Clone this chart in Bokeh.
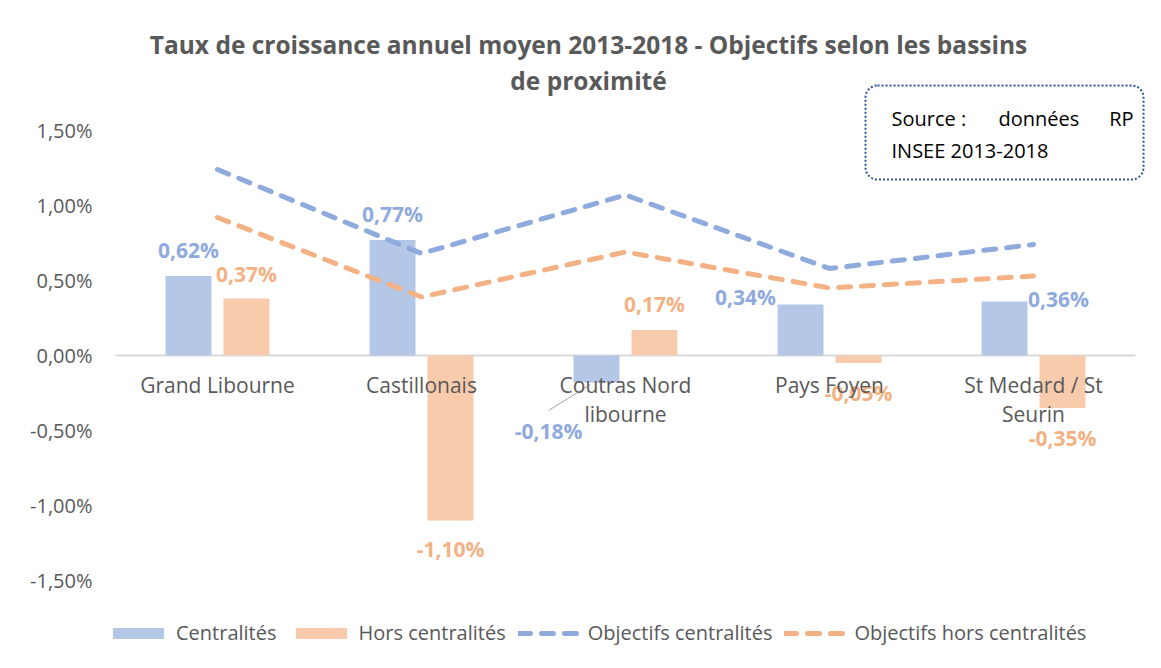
from bokeh.plotting import figure
from bokeh.models import (ColumnDataSource, Range1d, FactorRange, FixedTicker, CustomJSTickFormatter,
                          Label, BoxAnnotation, Legend, LegendItem)
from bokeh.transform import dodge
from bokeh.core.properties import value
from bokeh.embed import file_html
from bokeh.resources import INLINE

# ---------------- data ----------------
categories = ["Grand Libourne", "Castillonais", "Coutras Nord\nlibourne",
              "Pays Foyen", "St Medard / St\nSeurin"]
centralites = [0.53, 0.77, -0.18, 0.34, 0.36]
hors_centralites = [0.38, -1.10, 0.17, -0.05, -0.35]
objectifs_centralites = [1.24, 0.68, 1.07, 0.58, 0.74]
objectifs_hors_centralites = [0.92, 0.39, 0.69, 0.45, 0.53]
labels_centralites = ["0,62%", "0,77%", "-0,18%", "0,34%", "0,36%"]
labels_hors_centralites = ["0,37%", "-1,10%", "0,17%", "-0,05%", "-0,35%"]
y_ticks = [-1.5, -1.0, -0.5, 0.0, 0.5, 1.0, 1.5]

title_lines = ["Taux de croissance annuel moyen 2013-2018 - Objectifs selon les bassins",
               "de proximité"]
series_names = ["Centralités", "Hors centralités", "Objectifs centralités",
                "Objectifs hors centralités"]

# ---------------- label placement (pixels) ----------------
lab_c_dx = [0, 0, -48, -55, 54]
lab_c_dy = [-26, -26, 48, -8, -3]
lab_h_dx = [0, 0, 0, 0, 0]
lab_h_dy = [-25, 28, -26, 30, 30]

FONT = "Open Sans"
GREY = "#595959"
BLUE_BAR, ORANGE_BAR = "#B4C7E7", "#F8CBAD"
BLUE_LINE, ORANGE_LINE = "#8FAADC", "#F4B183"

W, H = 1145, 652
ML = 105                    # left panel for the y axis labels
FW, FH = W - ML, H
PX_X = 204.0                # pixels per category
PX_Y = 150.0                # pixels per 1 %
ZERO_Y = 355                # pixel row of 0 %
N = len(categories)
pad_pct = (FW / PX_X - N) / N   # symmetric padding so that categories are 204 px wide
OFF = 29 / PX_X
BW = 46 / PX_X

src = ColumnDataSource(dict(
    cat=categories, c=centralites, h=hors_centralites,
    oc=objectifs_centralites, oh=objectifs_hors_centralites,
    lc=labels_centralites, lh=labels_hors_centralites,
    lc_dx=lab_c_dx, lc_dy=lab_c_dy, lh_dx=lab_h_dx, lh_dy=lab_h_dy,
))

x_range = FactorRange(factors=categories, range_padding=pad_pct, range_padding_units="percent")
y_range = Range1d(-(H - ZERO_Y) / PX_Y, ZERO_Y / PX_Y)

p = figure(width=W, height=H, x_range=x_range, y_range=y_range,
           output_backend="svg", toolbar_location=None,
           min_border_left=ML, min_border_right=0, min_border_top=0, min_border_bottom=0)
p.outline_line_color = None
p.grid.visible = False
p.xaxis.visible = False
p.background_fill_color = "white"
p.border_fill_color = "white"

ya = p.yaxis[0]
ya.ticker = FixedTicker(ticks=y_ticks)
ya.formatter = CustomJSTickFormatter(code="return tick.toFixed(2).replace('.', ',') + '%';")
ya.axis_line_color = None
ya.major_tick_line_color = None
ya.minor_tick_line_color = None
ya.major_tick_out = 0
ya.major_tick_in = 0
ya.major_label_standoff = 13
ya.major_label_text_font = FONT
ya.major_label_text_font_size = "20px"
ya.major_label_text_color = GREY

# category axis line at 0 % spanning the categories
p.segment(x0=[0], y0=[0], x1=[N], y1=[0], line_color="#D9D9D9", line_width=2)

r_c = p.vbar(x=dodge("cat", -OFF, range=p.x_range), top="c", bottom=0, width=BW,
             source=src, fill_color=BLUE_BAR, line_color=None)
r_h = p.vbar(x=dodge("cat", OFF, range=p.x_range), top="h", bottom=0, width=BW,
             source=src, fill_color=ORANGE_BAR, line_color=None)

r_oc = p.line("cat", "oc", source=src, line_color=BLUE_LINE, line_width=5,
              line_dash="12 11", line_cap="round")
r_oh = p.line("cat", "oh", source=src, line_color=ORANGE_LINE, line_width=5,
              line_dash="12 11", line_cap="round")

# leader line for the Coutras label
i = 2
xc = i + 0.5 - OFF
yb = centralites[i]
p.segment(x0=[xc - 6 / PX_X], y0=[yb - 2 / PX_Y], x1=[xc - 48 / PX_X], y1=[yb - 28 / PX_Y],
          line_color="#A6A6A6", line_width=1)

p.text(x=dodge("cat", -OFF, range=p.x_range), y="c", text="lc", x_offset="lc_dx", y_offset="lc_dy",
       source=src, text_font=value(FONT), text_font_style="bold", text_font_size="21px",
       text_color=BLUE_LINE, text_align="center", text_baseline="middle")
p.text(x=dodge("cat", OFF, range=p.x_range), y="h", text="lh", x_offset="lh_dx", y_offset="lh_dy",
       source=src, text_font=value(FONT), text_font_style="bold", text_font_size="21px",
       text_color=ORANGE_LINE, text_align="center", text_baseline="middle")

# category labels
p.text(x="cat", y=0, text="cat", y_offset=15, source=src, text_font=value(FONT),
       text_font_size="21px", text_color=GREY, text_align="center", text_baseline="top",
       text_line_height=1.05)


def sx(px):
    return px - ML


def sy(py):
    return H - py


# title
for t, yy in zip(title_lines, [44, 80]):
    p.add_layout(Label(x=sx(588), y=sy(yy), x_units="screen", y_units="screen", text=t,
                       text_font=FONT, text_font_style="bold", text_font_size="24.5px",
                       text_color=GREY, text_align="center", text_baseline="middle"))

# source box
p.add_layout(BoxAnnotation(left=sx(865), right=sx(1143), top=sy(85), bottom=sy(179),
                           left_units="screen", right_units="screen",
                           top_units="screen", bottom_units="screen",
                           fill_alpha=0, line_color="#2F5597", line_alpha=1.0, line_width=2,
                           line_dash="2 2", border_radius=12))
for t, xx, yy, al in [("Source :", 891, 118, "left"), ("données", 998, 118, "left"),
                      ("RP", 1133, 118, "right"), ("INSEE 2013-2018", 891, 150, "left")]:
    p.add_layout(Label(x=sx(xx), y=sy(yy), x_units="screen", y_units="screen", text=t,
                       text_font=FONT, text_font_size="20px", text_color="black",
                       text_align=al, text_baseline="middle"))

legend = Legend(items=[LegendItem(label=series_names[0], renderers=[r_c]),
                       LegendItem(label=series_names[1], renderers=[r_h]),
                       LegendItem(label=series_names[2], renderers=[r_oc]),
                       LegendItem(label=series_names[3], renderers=[r_oh])],
                orientation="horizontal", location=(sx(106), 6),
                glyph_width=64, glyph_height=14, spacing=12, label_standoff=6,
                padding=0, margin=0, border_line_color=None, background_fill_alpha=0,
                label_text_font=FONT, label_text_font_size="20px", label_text_color=GREY)
p.add_layout(legend, "center")

open("out.html", "w").write(file_html(p, INLINE))
